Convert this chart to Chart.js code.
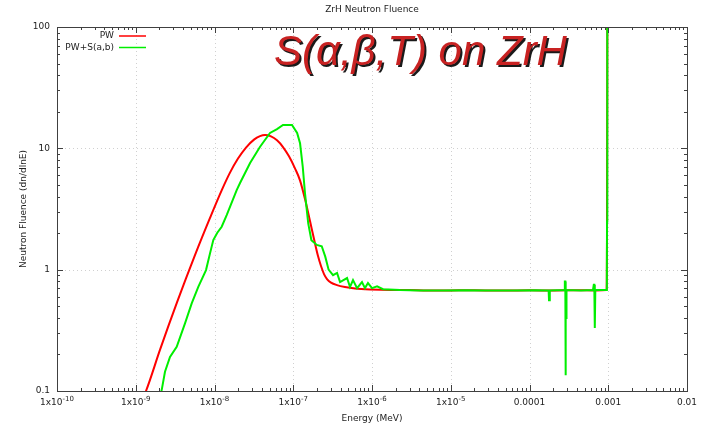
<!DOCTYPE html>
<html>
<head>
<meta charset="utf-8">
<title>ZrH Neutron Fluence</title>
<script src="https://cdn.jsdelivr.net/npm/chart.js@4.4.1/dist/chart.umd.min.js"></script>
<style>
  html, body { margin: 0; padding: 0; background: #fff; }
  #wrap { width: 708px; height: 428px; }
</style>
</head>
<body>
<div id="wrap"><canvas id="fluence" width="708" height="428"></canvas></div>
<script>
'use strict';

// ─────────────────────────────────────────────
// DATA  (energy in MeV, fluence in dn/dlnE)
// ─────────────────────────────────────────────

const pwEnergy = [
  1.20e-9, 1.349e-9, 2.03e-9, 3.34e-9, 5.65e-9, 8.77e-9, 1.245e-8, 1.573e-8,
  1.988e-8, 2.512e-8, 3.174e-8, 3.782e-8, 4.379e-8, 5.22e-8, 6.22e-8, 7.41e-8,
  8.83e-8, 1.052e-7, 1.218e-7, 1.41e-7, 1.632e-7, 1.835e-7, 2.063e-7, 2.251e-7,
  2.458e-7, 2.683e-7, 3.016e-7, 3.593e-7, 4.54e-7, 6.08e-7, 9.43e-7, 1.693e-6,
  3.0e-6, 5.0e-6, 1.0e-5, 2.0e-5, 5.0e-5, 1.0e-4, 2.0e-4, 4.0e-4,
  7.0e-4, 9.5e-4, 9.65e-4, 9.75e-4
];
const pwFluence = [
  0.085, 0.10, 0.218, 0.537, 1.317, 2.668, 4.566, 6.305,
  8.24, 10.15, 11.8, 12.6, 12.87, 12.56, 11.64, 10.25,
  8.59, 6.84, 5.45, 3.82, 2.516, 1.788, 1.295, 1.071,
  0.92, 0.837, 0.783, 0.746, 0.719, 0.699, 0.686, 0.68,
  0.68, 0.672, 0.675, 0.678, 0.672, 0.676, 0.674, 0.678,
  0.675, 0.68, 2.4, 200
];

const sabEnergy = [
  2.06e-9, 2.135e-9, 2.351e-9, 2.722e-9, 3.311e-9, 4.221e-9, 5.135e-9, 6.225e-9,
  7.80e-9, 8.77e-9, 9.656e-9, 1.085e-8, 1.234e-8, 1.428e-8, 1.913e-8, 2.11e-8,
  2.83e-8, 3.79e-8, 5.07e-8, 6.22e-8, 7.41e-8, 9.64e-8, 1.12e-7, 1.22e-7,
  1.32e-7, 1.41e-7, 1.55e-7, 1.70e-7, 1.99e-7, 2.30e-7, 2.55e-7, 2.81e-7,
  3.20e-7, 3.60e-7, 3.93e-7, 4.82e-7, 5.26e-7, 5.74e-7, 6.46e-7, 7.46e-7,
  8.14e-7, 8.89e-7, 1.0e-6, 1.16e-6, 1.38e-6, 2.27e-6, 4.0e-6, 8.0e-6,
  1.5e-5, 3.0e-5, 6.0e-5, 1.2e-4, 1.75e-4, 1.77e-4, 1.80e-4, 1.82e-4,
  2.78e-4, 2.81e-4, 2.85e-4, 2.87e-4, 2.89e-4, 2.92e-4, 2.95e-4, 4.5e-4,
  6.4e-4, 6.55e-4, 6.65e-4, 6.75e-4, 6.85e-4, 9.5e-4, 9.6e-4, 9.65e-4,
  9.7e-4, 9.75e-4
];
const sabFluence = [
  0.095, 0.1017, 0.144, 0.191, 0.2314, 0.3608, 0.5275, 0.7228,
  0.992, 1.362, 1.754, 2.015, 2.258, 2.819, 4.531, 5.18,
  7.56, 10.3, 13.4, 14.4, 15.6, 15.6, 13.4, 11.0,
  7.05, 4.26, 2.41, 1.75, 1.60, 1.56, 1.28, 1.0,
  0.90, 0.94, 0.79, 0.853, 0.72, 0.82, 0.705, 0.79,
  0.705, 0.776, 0.705, 0.73, 0.69, 0.68, 0.675, 0.672,
  0.676, 0.672, 0.675, 0.678, 0.675, 0.56, 0.56, 0.675,
  0.68, 0.80, 0.80, 0.135, 0.68, 0.40, 0.68, 0.675,
  0.68, 0.75, 0.75, 0.33, 0.68, 0.68, 0.9, 2.5,
  2.6, 200
];

const xDecades  = [-10, -9, -8, -7, -6, -5, -4, -3, -2];
const xTickText = ['-10', '-9', '-8', '-7', '-6', '-5', '0.0001', '0.001', '0.01'];
const yDecades  = [-1, 0, 1, 2];
const yTickText = ['0.1', '1', '10', '100'];

const seriesNames  = ['PW', 'PW+S(a,b)'];
const seriesColors = ['#ff0000', '#00ee00'];

const FONT      = "9px 'DejaVu Sans'";
const SUP_FONT  = "7px 'DejaVu Sans'";
const FRAME_CLR = '#404040';

// ─────────────────────────────────────────────
// HELPERS
// ─────────────────────────────────────────────

function toPoints(xs, ys) {
  return xs.map((x, i) => ({ x, y: ys[i] }));
}

function drawTickLabel(ctx, x, y, text) {
  // decade labels below 1e-4 are drawn as 1x10^n
  if (text.startsWith('-')) {
    ctx.font = FONT;
    const baseW = ctx.measureText('1x10').width;
    ctx.font = SUP_FONT;
    const supW = ctx.measureText(text).width;
    const left = x - (baseW + supW) / 2;
    ctx.textAlign = 'left';
    ctx.font = FONT;
    ctx.fillText('1x10', left, y);
    ctx.font = SUP_FONT;
    ctx.fillText(text, left + baseW, y - 4);
  } else {
    ctx.font = FONT;
    ctx.textAlign = 'center';
    ctx.fillText(text, x, y);
  }
}

// ─────────────────────────────────────────────
// PLUGIN: grid, frame, ticks, labels, legend
// ─────────────────────────────────────────────

const gnuplotFrame = {
  id: 'gnuplotFrame',

  beforeDatasetsDraw(chart) {
    const { ctx, chartArea: a, scales: { x, y } } = chart;
    ctx.save();
    ctx.strokeStyle = '#d0d0d0';
    ctx.lineWidth = 1;
    ctx.setLineDash([1, 3]);
    xDecades.slice(1, -1).forEach(d => {
      const px = Math.round(x.getPixelForValue(Math.pow(10, d))) + 0.5;
      ctx.beginPath(); ctx.moveTo(px, a.top); ctx.lineTo(px, a.bottom); ctx.stroke();
    });
    yDecades.slice(1, -1).forEach(d => {
      const py = Math.round(y.getPixelForValue(Math.pow(10, d))) + 0.5;
      ctx.beginPath(); ctx.moveTo(a.left, py); ctx.lineTo(a.right, py); ctx.stroke();
    });
    ctx.restore();
  },

  afterDraw(chart) {
    const { ctx, chartArea: a, scales: { x, y } } = chart;
    ctx.save();

    // frame
    ctx.strokeStyle = FRAME_CLR;
    ctx.lineWidth = 1;
    ctx.strokeRect(Math.round(a.left) + 0.5, Math.round(a.top) + 0.5,
                   Math.round(a.right - a.left), Math.round(a.bottom - a.top));

    // ticks, mirrored on all four sides, pointing inwards
    ctx.beginPath();
    for (let d = xDecades[0]; d <= xDecades[xDecades.length - 1]; d++) {
      for (let m = 1; m <= 9; m++) {
        const v = m * Math.pow(10, d);
        if (v > Math.pow(10, xDecades[xDecades.length - 1])) break;
        const len = m === 1 ? 6 : 3;
        const px = Math.round(x.getPixelForValue(v)) + 0.5;
        ctx.moveTo(px, a.bottom); ctx.lineTo(px, a.bottom - len);
        ctx.moveTo(px, a.top);    ctx.lineTo(px, a.top + len);
      }
    }
    for (let d = yDecades[0]; d <= yDecades[yDecades.length - 1]; d++) {
      for (let m = 1; m <= 9; m++) {
        const v = m * Math.pow(10, d);
        if (v > Math.pow(10, yDecades[yDecades.length - 1])) break;
        const len = m === 1 ? 6 : 3;
        const py = Math.round(y.getPixelForValue(v)) + 0.5;
        ctx.moveTo(a.left, py);  ctx.lineTo(a.left + len, py);
        ctx.moveTo(a.right, py); ctx.lineTo(a.right - len, py);
      }
    }
    ctx.stroke();

    // tick labels
    ctx.fillStyle = '#222';
    ctx.textBaseline = 'alphabetic';
    xDecades.forEach((d, i) => {
      drawTickLabel(ctx, x.getPixelForValue(Math.pow(10, d)), a.bottom + 14, xTickText[i]);
    });
    ctx.font = FONT;
    ctx.textAlign = 'right';
    ctx.textBaseline = 'middle';
    yDecades.forEach((d, i) => {
      ctx.fillText(yTickText[i], a.left - 7, y.getPixelForValue(Math.pow(10, d)));
    });

    // titles
    const cx = (a.left + a.right) / 2;
    ctx.textAlign = 'center';
    ctx.fillText('ZrH Neutron Fluence', cx, 10);
    ctx.fillText('Energy (MeV)', cx, 419);
    ctx.save();
    ctx.translate(24, (a.top + a.bottom) / 2);
    ctx.rotate(-Math.PI / 2);
    ctx.fillText('Neutron Fluence (dn/dlnE)', 0, 0);
    ctx.restore();

    // legend
    seriesNames.forEach((name, i) => {
      const ly = 36 + i * 11.5;
      ctx.textAlign = 'right';
      ctx.fillStyle = '#222';
      ctx.fillText(name, 114, ly);
      ctx.strokeStyle = seriesColors[i];
      ctx.lineWidth = 1.5;
      ctx.beginPath(); ctx.moveTo(119, ly); ctx.lineTo(146, ly); ctx.stroke();
    });

    // headline
    ctx.font = "italic 42px 'Liberation Sans'";
    ctx.textAlign = 'left';
    ctx.textBaseline = 'alphabetic';
    ctx.fillStyle = '#1a1a1a';
    ctx.fillText('S(\u03b1,\u03b2,T) on ZrH', 276, 67);
    ctx.fillStyle = '#c82222';
    ctx.fillText('S(\u03b1,\u03b2,T) on ZrH', 274, 65);

    ctx.restore();
  }
};

// ─────────────────────────────────────────────
// CHART
// ─────────────────────────────────────────────

new Chart(document.getElementById('fluence'), {
  type: 'scatter',
  data: {
    datasets: [
      {
        label: seriesNames[0],
        data: toPoints(pwEnergy, pwFluence),
        showLine: true,
        borderColor: seriesColors[0],
        borderWidth: 2,
        pointRadius: 0,
        cubicInterpolationMode: 'monotone',
        order: 1,
      },
      {
        label: seriesNames[1],
        data: toPoints(sabEnergy, sabFluence),
        showLine: true,
        borderColor: seriesColors[1],
        borderWidth: 2,
        pointRadius: 0,
        tension: 0,
        order: 0,
      },
    ],
  },
  options: {
    responsive: false,
    animation: false,
    devicePixelRatio: 1,
    layout: { padding: { left: 57, right: 21, top: 27, bottom: 37 } },
    plugins: { legend: { display: false }, tooltip: { enabled: false }, title: { display: false } },
    scales: {
      x: { type: 'logarithmic', min: 1e-10, max: 1e-2, display: false },
      y: { type: 'logarithmic', min: 0.1, max: 100, display: false },
    },
  },
  plugins: [gnuplotFrame],
});
</script>
</body>
</html>
